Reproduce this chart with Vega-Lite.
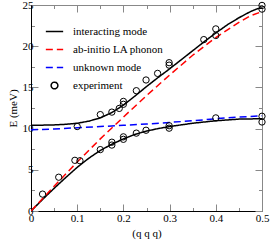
{
  "$schema": "https://vega.github.io/schema/vega-lite/v6.json",
  "width": 231,
  "height": 206,
  "autosize": {"type": "none"},
  "padding": {"left": 31, "top": 5, "right": 8, "bottom": 32},
  "config": {
    "view": {"stroke": null},
    "font": "Liberation Serif",
    "axis": {"labelFont": "Liberation Serif", "titleFont": "Liberation Serif", "labelFontSize": 11, "titleFontSize": 11, "titleFontWeight": "normal", "labelColor": "#000", "titleColor": "#000", "grid": false, "tickColor": "#888", "domainWidth": 1},
    "legend": {"labelFont": "Liberation Serif", "labelFontSize": 11, "labelColor": "#000"}
  },
  "datasets": {
    "curves": [
      {"series": "interacting mode", "branch": "upper", "q": 0, "E": 10.4},
      {"series": "interacting mode", "branch": "upper", "q": 0.025, "E": 10.42},
      {"series": "interacting mode", "branch": "upper", "q": 0.05, "E": 10.45},
      {"series": "interacting mode", "branch": "upper", "q": 0.075, "E": 10.52},
      {"series": "interacting mode", "branch": "upper", "q": 0.1, "E": 10.65},
      {"series": "interacting mode", "branch": "upper", "q": 0.125, "E": 10.9},
      {"series": "interacting mode", "branch": "upper", "q": 0.15, "E": 11.3},
      {"series": "interacting mode", "branch": "upper", "q": 0.175, "E": 11.95},
      {"series": "interacting mode", "branch": "upper", "q": 0.2, "E": 12.85},
      {"series": "interacting mode", "branch": "upper", "q": 0.225, "E": 13.95},
      {"series": "interacting mode", "branch": "upper", "q": 0.25, "E": 15.1},
      {"series": "interacting mode", "branch": "upper", "q": 0.275, "E": 16.2},
      {"series": "interacting mode", "branch": "upper", "q": 0.3, "E": 17.25},
      {"series": "interacting mode", "branch": "upper", "q": 0.325, "E": 18.35},
      {"series": "interacting mode", "branch": "upper", "q": 0.35, "E": 19.45},
      {"series": "interacting mode", "branch": "upper", "q": 0.375, "E": 20.55},
      {"series": "interacting mode", "branch": "upper", "q": 0.4, "E": 21.6},
      {"series": "interacting mode", "branch": "upper", "q": 0.425, "E": 22.6},
      {"series": "interacting mode", "branch": "upper", "q": 0.45, "E": 23.45},
      {"series": "interacting mode", "branch": "upper", "q": 0.475, "E": 24.2},
      {"series": "interacting mode", "branch": "upper", "q": 0.49, "E": 24.55},
      {"series": "interacting mode", "branch": "upper", "q": 0.5, "E": 24.65},
      {"series": "interacting mode", "branch": "lower", "q": 0, "E": 0},
      {"series": "interacting mode", "branch": "lower", "q": 0.025, "E": 1.4},
      {"series": "interacting mode", "branch": "lower", "q": 0.05, "E": 2.75},
      {"series": "interacting mode", "branch": "lower", "q": 0.075, "E": 4.05},
      {"series": "interacting mode", "branch": "lower", "q": 0.1, "E": 5.3},
      {"series": "interacting mode", "branch": "lower", "q": 0.125, "E": 6.4},
      {"series": "interacting mode", "branch": "lower", "q": 0.15, "E": 7.35},
      {"series": "interacting mode", "branch": "lower", "q": 0.175, "E": 8.1},
      {"series": "interacting mode", "branch": "lower", "q": 0.2, "E": 8.75},
      {"series": "interacting mode", "branch": "lower", "q": 0.225, "E": 9.3},
      {"series": "interacting mode", "branch": "lower", "q": 0.25, "E": 9.7},
      {"series": "interacting mode", "branch": "lower", "q": 0.275, "E": 10.0},
      {"series": "interacting mode", "branch": "lower", "q": 0.3, "E": 10.25},
      {"series": "interacting mode", "branch": "lower", "q": 0.35, "E": 10.65},
      {"series": "interacting mode", "branch": "lower", "q": 0.4, "E": 10.95},
      {"series": "interacting mode", "branch": "lower", "q": 0.45, "E": 11.15},
      {"series": "interacting mode", "branch": "lower", "q": 0.5, "E": 11.2},
      {"series": "ab-initio LA phonon", "branch": "la", "q": 0, "E": 0},
      {"series": "ab-initio LA phonon", "branch": "la", "q": 0.05, "E": 3.0},
      {"series": "ab-initio LA phonon", "branch": "la", "q": 0.1, "E": 5.95},
      {"series": "ab-initio LA phonon", "branch": "la", "q": 0.15, "E": 8.75},
      {"series": "ab-initio LA phonon", "branch": "la", "q": 0.2, "E": 11.4},
      {"series": "ab-initio LA phonon", "branch": "la", "q": 0.25, "E": 14.0},
      {"series": "ab-initio LA phonon", "branch": "la", "q": 0.3, "E": 16.5},
      {"series": "ab-initio LA phonon", "branch": "la", "q": 0.35, "E": 18.9},
      {"series": "ab-initio LA phonon", "branch": "la", "q": 0.4, "E": 21.05},
      {"series": "ab-initio LA phonon", "branch": "la", "q": 0.45, "E": 22.9},
      {"series": "ab-initio LA phonon", "branch": "la", "q": 0.475, "E": 23.7},
      {"series": "ab-initio LA phonon", "branch": "la", "q": 0.5, "E": 24.2},
      {"series": "unknown mode", "branch": "unk", "q": 0, "E": 9.85},
      {"series": "unknown mode", "branch": "unk", "q": 0.05, "E": 9.95},
      {"series": "unknown mode", "branch": "unk", "q": 0.1, "E": 10.1},
      {"series": "unknown mode", "branch": "unk", "q": 0.15, "E": 10.25},
      {"series": "unknown mode", "branch": "unk", "q": 0.2, "E": 10.4},
      {"series": "unknown mode", "branch": "unk", "q": 0.25, "E": 10.55},
      {"series": "unknown mode", "branch": "unk", "q": 0.3, "E": 10.75},
      {"series": "unknown mode", "branch": "unk", "q": 0.35, "E": 10.95},
      {"series": "unknown mode", "branch": "unk", "q": 0.4, "E": 11.2},
      {"series": "unknown mode", "branch": "unk", "q": 0.45, "E": 11.4},
      {"series": "unknown mode", "branch": "unk", "q": 0.5, "E": 11.55}
    ],
    "experiment": [
      {"series": "experiment", "q": 0.025, "E": 2.05},
      {"series": "experiment", "q": 0.06, "E": 4.1},
      {"series": "experiment", "q": 0.095, "E": 6.15},
      {"series": "experiment", "q": 0.106, "E": 6.1},
      {"series": "experiment", "q": 0.1, "E": 10.25},
      {"series": "experiment", "q": 0.15, "E": 7.45},
      {"series": "experiment", "q": 0.15, "E": 11.7},
      {"series": "experiment", "q": 0.175, "E": 8.0},
      {"series": "experiment", "q": 0.175, "E": 8.35},
      {"series": "experiment", "q": 0.175, "E": 12.0},
      {"series": "experiment", "q": 0.191, "E": 12.45},
      {"series": "experiment", "q": 0.2, "E": 8.7},
      {"series": "experiment", "q": 0.2, "E": 9.0},
      {"series": "experiment", "q": 0.2, "E": 12.95},
      {"series": "experiment", "q": 0.2, "E": 13.3},
      {"series": "experiment", "q": 0.228, "E": 9.45},
      {"series": "experiment", "q": 0.228, "E": 14.6},
      {"series": "experiment", "q": 0.249, "E": 9.8},
      {"series": "experiment", "q": 0.249, "E": 15.9},
      {"series": "experiment", "q": 0.274, "E": 16.7},
      {"series": "experiment", "q": 0.299, "E": 10.05},
      {"series": "experiment", "q": 0.299, "E": 10.35},
      {"series": "experiment", "q": 0.299, "E": 17.7},
      {"series": "experiment", "q": 0.299, "E": 18.0},
      {"series": "experiment", "q": 0.374, "E": 20.8},
      {"series": "experiment", "q": 0.4, "E": 11.3},
      {"series": "experiment", "q": 0.4, "E": 21.3},
      {"series": "experiment", "q": 0.4, "E": 22.1},
      {"series": "experiment", "q": 0.5, "E": 10.8},
      {"series": "experiment", "q": 0.5, "E": 11.5},
      {"series": "experiment", "q": 0.5, "E": 24.5},
      {"series": "experiment", "q": 0.5, "E": 24.95}
    ]
  },
  "layer": [
    {
      "data": {"name": "curves"},
      "mark": {"type": "line", "strokeWidth": 1.5, "clip": true},
      "encoding": {
        "x": {"field": "q", "type": "quantitative", "scale": {"domain": [0, 0.5], "nice": false},
          "axis": {"orient": "bottom", "title": "(q q q)", "values": [0, 0.05, 0.1, 0.15, 0.2, 0.25, 0.3, 0.35, 0.4, 0.45, 0.5],
            "labelExpr": "round(datum.value*20)%2==0 ? format(datum.value, '.1~f') : ''",
            "tickSize": {"condition": {"test": "round(datum.value*20)%2==0", "value": -7}, "value": -3.5},
            "labelPadding": 8, "titlePadding": 4, "domainColor": "#000", "labelFlush": false}},
        "y": {"field": "E", "type": "quantitative", "scale": {"domain": [0, 25], "nice": false},
          "axis": {"orient": "left", "title": "E (meV)", "values": [0, 2.5, 5, 7.5, 10, 12.5, 15, 17.5, 20, 22.5, 25],
            "labelExpr": "datum.value % 5 == 0 ? format(datum.value, 'd') : ''",
            "tickSize": {"condition": {"test": "datum.value % 5 == 0", "value": -7}, "value": -3.5},
            "labelPadding": 5, "titlePadding": 4, "domainColor": "#000", "labelFlush": false}},
        "detail": {"field": "branch"},
        "color": {"field": "series", "type": "nominal",
          "scale": {"domain": ["interacting mode", "ab-initio LA phonon", "unknown mode", "experiment"], "range": ["#000000", "#ff0000", "#0000ff", "#000000"]},
          "legend": {"title": null, "orient": "none", "legendX": 14, "legendY": 17, "rowPadding": 3, "labelOffset": 9, "symbolStrokeWidth": 1.5,
            "encode": {"symbols": {"update": {"size": {"signal": "datum.value === 'experiment' ? 45 : 300"}, "fill": {"value": "transparent"}}}}}},
        "strokeDash": {"field": "series", "type": "nominal",
          "scale": {"domain": ["interacting mode", "ab-initio LA phonon", "unknown mode", "experiment"], "range": [[1, 0], [7, 4], [7, 4], [1, 0]]},
          "legend": {"title": null, "orient": "none", "legendX": 14, "legendY": 17}}
      }
    },
    {
      "data": {"name": "experiment"},
      "mark": {"type": "point", "filled": false, "size": 40, "strokeWidth": 1, "opacity": 1},
      "encoding": {
        "x": {"field": "q", "type": "quantitative",
          "axis": {"orient": "top", "title": null, "labels": false, "values": [0, 0.05, 0.1, 0.15, 0.2, 0.25, 0.3, 0.35, 0.4, 0.45, 0.5],
            "tickSize": {"condition": {"test": "round(datum.value*20)%2==0", "value": -7}, "value": -3.5}, "domainColor": "#888"}},
        "y": {"field": "E", "type": "quantitative",
          "axis": {"orient": "right", "title": null, "labels": false, "values": [0, 2.5, 5, 7.5, 10, 12.5, 15, 17.5, 20, 22.5, 25],
            "tickSize": {"condition": {"test": "datum.value % 5 == 0", "value": -7}, "value": -3.5}, "domainColor": "#888"}},
        "color": {"field": "series", "type": "nominal"},
        "shape": {"field": "series", "type": "nominal",
          "scale": {"domain": ["interacting mode", "ab-initio LA phonon", "unknown mode", "experiment"], "range": ["stroke", "stroke", "stroke", "circle"]},
          "legend": {"title": null, "orient": "none", "legendX": 14, "legendY": 17}}
      }
    }
  ],
  "resolve": {"axis": {"x": "independent", "y": "independent"}}
}
